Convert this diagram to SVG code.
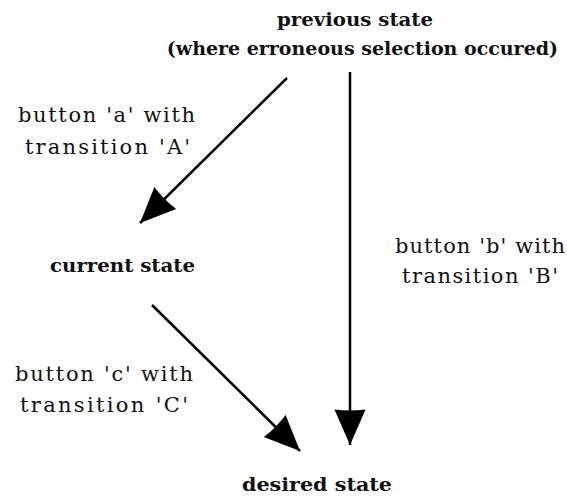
<svg xmlns="http://www.w3.org/2000/svg" width="567" height="497" viewBox="0 0 567 497">
<defs>
<marker id="ah" markerUnits="userSpaceOnUse" markerWidth="40" markerHeight="40" viewBox="-34 -17 36 34" refX="0" refY="0" orient="auto">
<path d="M0,0 L-32,-14 Q-30,0 -32,14 Z" fill="#000"/>
</marker>
</defs>
<rect width="567" height="497" fill="#fff"/>
<g font-family="DejaVu Serif, Liberation Serif, serif" font-weight="bold" font-size="19" fill="#111">
<g id="previous">
<text x="277" y="26" textLength="156" lengthAdjust="spacingAndGlyphs">previous state</text>
<text x="558" y="55" text-anchor="end">(where erroneous selection occured)</text>
</g>
<g id="current"><text x="50" y="272" textLength="145" lengthAdjust="spacingAndGlyphs">current state</text></g>
<g id="desired"><text x="242" y="491" textLength="150" lengthAdjust="spacingAndGlyphs">desired state</text></g>
</g>
<g id="labels" font-family="DejaVu Serif, Liberation Serif, serif" font-size="21" fill="#111">
<text x="18" y="122" textLength="177">button 'a' with</text>
<text x="25" y="154" textLength="165">transition 'A'</text>
<text x="395" y="253" textLength="170">button 'b' with</text>
<text x="402" y="283" textLength="156">transition 'B'</text>
<text x="15" y="381" textLength="178">button 'c' with</text>
<text x="20" y="412" textLength="168">transition 'C'</text>
</g>
<g id="connectors" stroke="#000" stroke-width="2.5" fill="none" marker-end="url(#ah)">
<line x1="287" y1="78" x2="140" y2="223"/>
<line x1="350" y1="72" x2="350" y2="445"/>
<line x1="152" y1="305" x2="300" y2="451"/>
</g>
</svg>
